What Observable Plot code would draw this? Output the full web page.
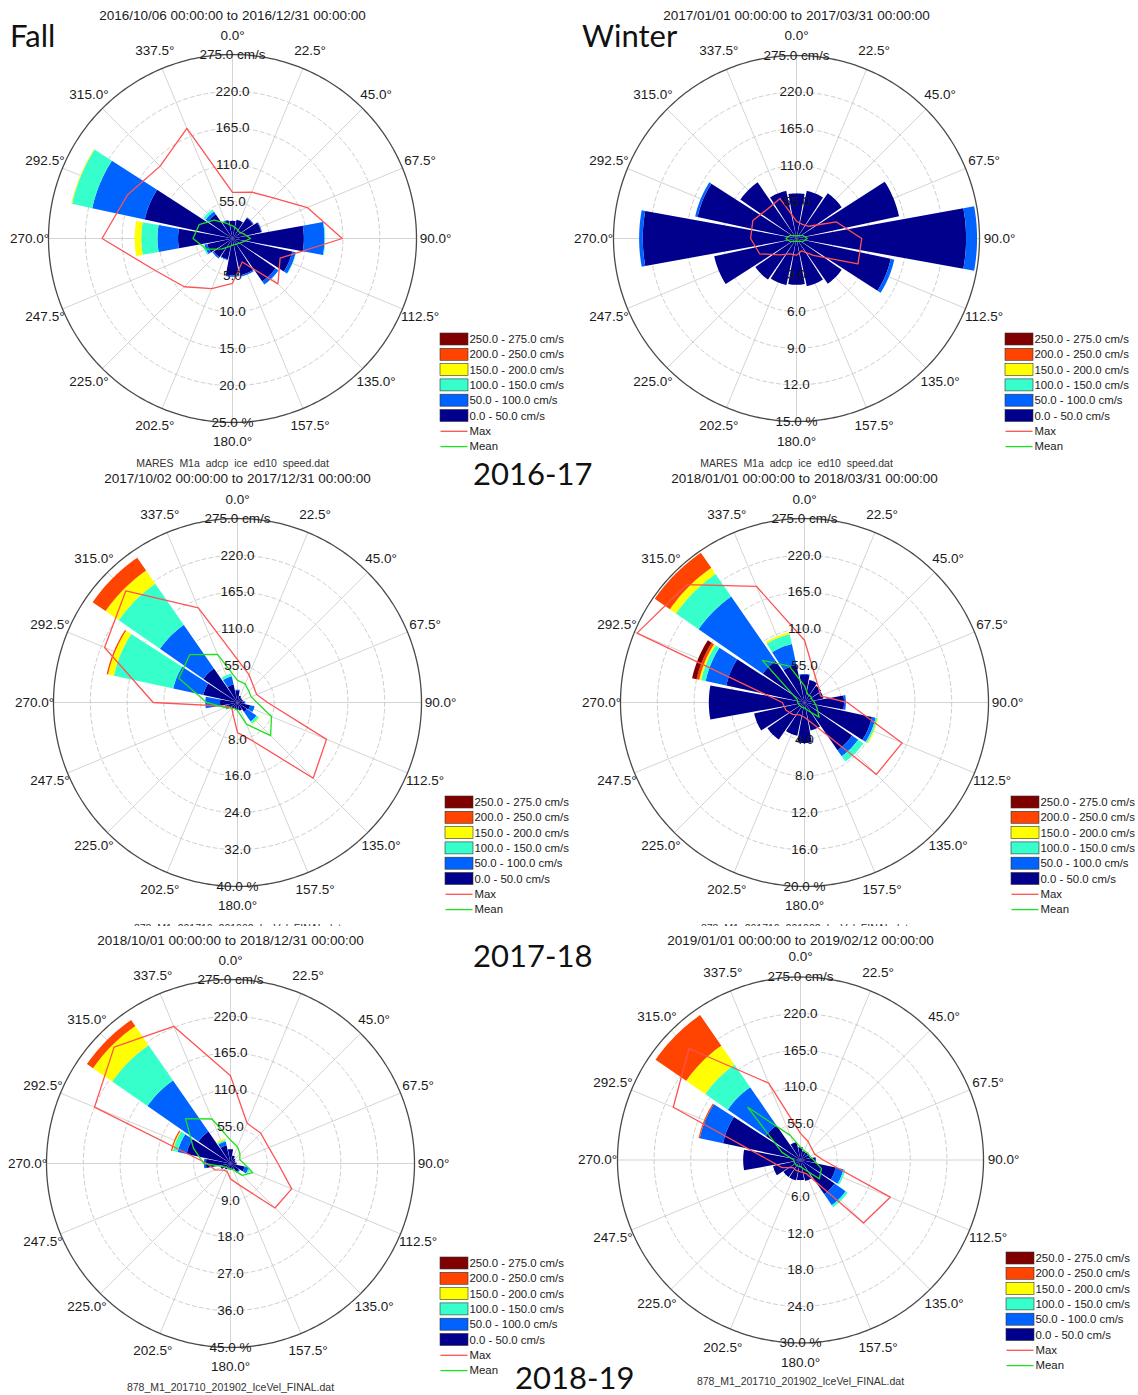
<!DOCTYPE html>
<html><head><meta charset="utf-8">
<script src="https://cdn.jsdelivr.net/npm/d3@7"></script>
<script src="https://cdn.jsdelivr.net/npm/@observablehq/plot@0.6"></script>
<style>
body{margin:0;background:#fff;}
#page{position:relative;width:1138px;height:1395px;overflow:hidden;background:#fff;}
.panel{position:absolute;}
.panel.cover{background:#fff;}
svg text{white-space:pre;}
</style></head><body><div id="page"></div>
<script>
// ---------------- DATA ----------------
const directions = [0, 22.5, 45, 67.5, 90, 112.5, 135, 157.5, 180, 202.5, 225, 247.5, 270, 292.5, 315, 337.5];
const directionLabels = ["0.0°","22.5°","45.0°","67.5°","90.0°","112.5°","135.0°","157.5°","180.0°","202.5°","225.0°","247.5°","270.0°","292.5°","315.0°","337.5°"];
const speedBins = ["0.0 - 50.0 cm/s","50.0 - 100.0 cm/s","100.0 - 150.0 cm/s","150.0 - 200.0 cm/s","200.0 - 250.0 cm/s","250.0 - 275.0 cm/s"];
const speedTicks = [55, 110, 165, 220, 275];
const speedTickLabels = ["55.0","110.0","165.0","220.0","275.0 cm/s"];
const legendLineLabels = ["Max","Mean"];

const panelTitles = [
  "2016/10/06 00:00:00 to 2016/12/31 00:00:00",
  "2017/01/01 00:00:00 to 2017/03/31 00:00:00",
  "2017/10/02 00:00:00 to 2017/12/31 00:00:00",
  "2018/01/01 00:00:00 to 2018/03/31 00:00:00",
  "2018/10/01 00:00:00 to 2018/12/31 00:00:00",
  "2019/01/01 00:00:00 to 2019/02/12 00:00:00"
];
const panelFooters = [
  "MARES  M1a  adcp  ice  ed10  speed.dat",
  "MARES  M1a  adcp  ice  ed10  speed.dat",
  "878_M1_201710_201902_IceVel_FINAL.dat",
  "878_M1_201710_201902_IceVel_FINAL.dat",
  "878_M1_201710_201902_IceVel_FINAL.dat",
  "878_M1_201710_201902_IceVel_FINAL.dat"
];
const seasonLabels = ["Fall","Winter"];
const yearLabels = ["2016-17","2017-18","2018-19"];

// percent ring ticks per panel
const fall16PctTicks = [5, 10, 15, 20, 25];
const winter17PctTicks = [3, 6, 9, 12, 15];
const fall17PctTicks = [8, 16, 24, 32, 40];
const winter18PctTicks = [4, 8, 12, 16, 20];
const fall18PctTicks = [9, 18, 27, 36, 45];
const winter19PctTicks = [6, 12, 18, 24, 30];

// frequency (%) rows = speed bins (0-50 ... 250-275), columns = directions
const fall16Freq = [
  [2.4, 2.6, 3.4, 4.0, 9.7, 8.3, 7.1, 5.1, 5.0, 2.9, 3.1, 3.5, 7.4, 12.2, 4.0, 2.5],
  [0, 0, 0.1, 0.1, 2.8, 0.5, 0.5, 0.2, 0.2, 0.1, 0.2, 0.4, 2.8, 7.3, 0.45, 0.1],
  [0, 0, 0, 0, 0.1, 0.05, 0, 0, 0, 0, 0, 0.2, 2.2, 2.8, 0.35, 0],
  [0, 0, 0, 0, 0, 0, 0, 0, 0, 0, 0, 0, 0.9, 0.1, 0, 0],
  [0, 0, 0, 0, 0, 0, 0, 0, 0, 0, 0, 0, 0, 0, 0, 0],
  [0, 0, 0, 0, 0, 0, 0, 0, 0, 0, 0, 0, 0, 0, 0, 0]
];
const fall16Max  = [69, 75, 86, 121, 164, 77, 96, 38, 67, 81, 102, 125, 195, 170, 153, 178];
const fall16Mean = [19, 16, 14, 18, 27, 15, 11, 10, 10, 13, 22, 42, 59, 54, 39, 25];

const winter17Freq = [
  [3.7, 4.0, 4.5, 8.6, 13.9, 7.9, 4.5, 4.0, 3.8, 3.9, 4.1, 6.9, 12.6, 8.3, 5.6, 4.0],
  [0, 0, 0, 0, 0.9, 0.3, 0, 0, 0, 0, 0, 0, 0.3, 0.2, 0, 0],
  [0, 0, 0, 0, 0, 0, 0, 0, 0, 0, 0, 0, 0, 0, 0, 0],
  [0, 0, 0, 0, 0, 0, 0, 0, 0, 0, 0, 0, 0, 0, 0, 0],
  [0, 0, 0, 0, 0, 0, 0, 0, 0, 0, 0, 0, 0, 0, 0, 0],
  [0, 0, 0, 0, 0, 0, 0, 0, 0, 0, 0, 0, 0, 0, 0, 0]
];
const winter17Max  = [26, 23, 26, 65, 98, 100, 36, 20, 25, 25, 35, 60, 69, 71, 62, 65];
const winter17Mean = [4, 4.5, 6, 11, 16, 11, 6, 4.5, 4, 4.5, 6, 11, 16, 11, 6, 4.5];

const fall17Freq = [
  [2.5, 1.5, 1.2, 1.2, 1.5, 2.8, 2.5, 1.8, 1.6, 1.5, 1.8, 2.5, 3.8, 7.6, 9.0, 4.0],
  [0.3, 0, 0, 0, 0.2, 1.0, 2.5, 0, 0, 0, 0, 0.3, 3.2, 6.7, 11.5, 1.8],
  [0, 0, 0, 0, 0, 0, 0.6, 0, 0, 0, 0, 0, 0, 13.2, 10.9, 0.6],
  [0, 0, 0, 0, 0, 0, 0.2, 0, 0, 0, 0, 0, 0, 1.3, 3.5, 0],
  [0, 0, 0, 0, 0, 0, 0, 0, 0, 0, 0, 0, 0, 0.3, 3.4, 0],
  [0, 0, 0, 0, 0, 0, 0, 0, 0, 0, 0, 0, 0, 0, 0, 0]
];
const fall17Max  = [64, 45, 34, 31, 45, 144, 160, 63, 45, 18, 12, 15, 126, 215, 236, 153];
const fall17Mean = [33, 30, 24, 22, 29, 55, 70, 35, 12, 10, 12, 20, 46, 95, 101, 78];

const winter18Freq = [
  [3.0, 2.5, 2.2, 2.1, 4.3, 7.5, 6.3, 3.1, 4.4, 3.7, 4.9, 5.6, 10.4, 8.7, 5.5, 4.2],
  [0.1, 0, 0, 0, 0.2, 0.4, 0.8, 0, 0, 0, 0, 0, 0, 2.3, 8.5, 2.3],
  [0, 0, 0, 0, 0, 0.2, 0.7, 0, 0, 0, 0, 0, 0, 0.5, 3.0, 1.1],
  [0, 0, 0, 0, 0, 0.1, 0, 0, 0, 0, 0, 0, 0, 0.2, 0.8, 0.2],
  [0, 0, 0, 0, 0, 0, 0, 0, 0, 0, 0, 0, 0, 0.3, 2.0, 0],
  [0, 0, 0, 0, 0, 0, 0, 0, 0, 0, 0, 0, 0, 0.5, 0, 0]
];
const winter18Max  = [93, 42, 30, 26, 64, 158, 152, 35, 22, 20, 25, 30, 33, 271, 249, 188];
const winter18Mean = [25, 13, 13, 12, 15, 20, 31, 13, 8, 8, 8, 9, 10, 12, 89, 59];

const fall18Freq = [
  [3.5, 2.0, 1.5, 1.2, 1.5, 3.5, 2.5, 1.5, 1.5, 1.5, 1.8, 2.5, 6.0, 11.0, 9.5, 4.5],
  [0, 0, 0, 0, 0, 1.0, 0.3, 0, 0, 0, 0, 0, 0.5, 2.2, 15.2, 1.0],
  [0, 0, 0, 0, 0, 0.4, 0, 0, 0, 0, 0, 0, 0, 1.2, 10.5, 0.4],
  [0, 0, 0, 0, 0, 0, 0, 0, 0, 0, 0, 0, 0, 0.2, 5.7, 0.4],
  [0, 0, 0, 0, 0, 0, 0, 0, 0, 0, 0, 0, 0, 0.3, 1.8, 0],
  [0, 0, 0, 0, 0, 0, 0, 0, 0, 0, 0, 0, 0, 0, 0, 0]
];
const fall18Max  = [131, 65, 64, 62, 71, 99, 94, 35, 23, 13, 14, 25, 35, 220, 246, 222];
const fall18Mean = [35, 27, 20, 15, 20, 36, 25, 10, 8, 8, 8, 12, 40, 60, 95, 72];

const winter19Freq = [
  [2.1, 1.5, 1.5, 1.6, 2.5, 5.9, 6.8, 3.5, 3.3, 3.4, 3.4, 4.6, 9.4, 13.0, 6.9, 3.0],
  [0, 0, 0, 0, 0, 1.3, 2.2, 0, 0, 0, 0, 0, 0, 3.9, 7.6, 0],
  [0, 0, 0, 0, 0, 0.3, 0.4, 0, 0, 0, 0, 0, 0, 0, 4.5, 0],
  [0, 0, 0, 0, 0, 0, 0, 0, 0, 0, 0, 0, 0, 0, 3.8, 0],
  [0, 0, 0, 0, 0, 0, 0, 0, 0, 0, 0, 0, 0, 0.2, 6.1, 0],
  [0, 0, 0, 0, 0, 0, 0, 0, 0, 0, 0, 0, 0, 0, 0, 0]
];
const winter19Max  = [40, 30, 24, 23, 34, 146, 134, 22, 18, 17, 16, 30, 48, 207, 237, 125];
const winter19Mean = [19, 15, 15, 15, 20, 34, 40, 15, 10, 10, 10, 10, 10, 30, 112, 40];

// ---------------- STYLE / LAYOUT ----------------
const binColors = ["#00008c", "#0062ff", "#36ffcc", "#ffff00", "#ff4300", "#800000"];
const maxColor = "#ff5252";
const meanColor = "#1fe01f";
const font = "'Liberation Sans', Arial, sans-serif";
const speedMax = 275;
const HALF = 10.3; // petal half width (deg)
const RAD = Math.PI / 180;

const panels = [
  {freq: fall16Freq, max: fall16Max, mean: fall16Mean, ticks: fall16PctTicks, k: 0,
   left: 0, top: 0, w: 569, h: 468, cx: 232, cy: 238, R: 184, tDy: 223, fDy: 225, lx: 208, ly: 101, cover: false},
  {freq: winter17Freq, max: winter17Max, mean: winter17Mean, ticks: winter17PctTicks, k: 1,
   left: 569, top: 0, w: 569, h: 468, cx: 796, cy: 238, R: 183, tDy: 223, fDy: 225, lx: 209, ly: 101, cover: false},
  {freq: fall17Freq, max: fall17Max, mean: fall17Mean, ticks: fall17PctTicks, k: 2,
   left: 0, top: 468, w: 575, h: 458, cx: 237, cy: 702, R: 184, tDy: 224, fDy: 226, lx: 208, ly: 100, cover: false},
  {freq: winter18Freq, max: winter18Max, mean: winter18Mean, ticks: winter18PctTicks, k: 3,
   left: 575, top: 468, w: 563, h: 458, cx: 804, cy: 702, R: 184, tDy: 224, fDy: 226, lx: 207, ly: 100, cover: false},
  {freq: fall18Freq, max: fall18Max, mean: fall18Mean, ticks: fall18PctTicks, k: 4,
   left: 0, top: 926, w: 569, h: 469, cx: 230, cy: 1163, R: 184, tDy: 223, fDy: 224, lx: 210, ly: 100, cover: true},
  {freq: winter19Freq, max: winter19Max, mean: winter19Mean, ticks: winter19PctTicks, k: 5,
   left: 569, top: 926, w: 569, h: 469, cx: 800, cy: 1159.5, R: 183, tDy: 219.5, fDy: 222, lx: 206, ly: 98.5, cover: true}
];

const polar = (deg, r) => [r * Math.sin(deg * RAD), r * Math.cos(deg * RAD)];

function petalPoints(freq, pctMax, R) {
  const pts = [];
  directions.forEach((d, i) => {
    let c = 0;
    freq.forEach((row, b) => {
      const v = row[i];
      if (!(v > 0)) return;
      const r0 = c / pctMax * R, r1 = (c + v) / pctMax * R;
      c += v;
      const id = i + "-" + b, n = 12;
      for (let s = 0; s <= n; s++) {
        const [x, y] = polar(d - HALF + 2 * HALF * s / n, r1);
        pts.push({id, bin: speedBins[b], x, y});
      }
      for (let s = n; s >= 0; s--) {
        const [x, y] = polar(d - HALF + 2 * HALF * s / n, r0);
        pts.push({id, bin: speedBins[b], x, y});
      }
    });
  });
  return pts;
}

function drawPanel(p) {
  const pctMax = p.ticks[p.ticks.length - 1];
  const R = p.R;
  const ox = p.cx - p.left, oy = p.cy - p.top;
  const rings = [];
  [0.2, 0.4, 0.6, 0.8].forEach((f, j) => {
    for (let a = 0; a <= 360; a += 2) {
      const [x, y] = polar(a, f * R);
      rings.push({ring: j, x, y});
    }
  });
  const outer = d3.range(0, 360, 1).map(a => { const [x, y] = polar(a, R); return {x, y}; });
  const pctLabels = p.ticks.map((t, i) => t.toFixed(1) + (i === p.ticks.length - 1 ? " %" : ""));
  const legendRows = [5, 4, 3, 2, 1, 0].map((b, i) => ({bin: speedBins[b], y: -(p.ly + i * 15.3)}));
  const lineRows = legendLineLabels.map((t, i) => ({t, y: -(p.ly + (6 + i) * 15.3), c: i === 0 ? maxColor : meanColor}));
  const vecX = (vals) => (d, i) => polar(d, vals[i] / speedMax * R)[0];
  const vecY = (vals) => (d, i) => polar(d, vals[i] / speedMax * R)[1];

  return Plot.plot({
    width: p.w, height: p.h, margin: 0,
    x: {domain: [-ox, p.w - ox], axis: null},
    y: {domain: [-(p.h - oy), oy], axis: null},
    color: {domain: speedBins, range: binColors},
    style: {background: "transparent", overflow: "visible", fontFamily: font, maxWidth: "none"},
    marks: [
      Plot.link(directions, {x1: 0, y1: 0, x2: d => polar(d, R)[0], y2: d => polar(d, R)[1], stroke: "#d4d4d4", strokeWidth: 1}),
      Plot.line(rings, {x: "x", y: "y", z: "ring", stroke: "#c8c8c8", strokeWidth: 0.9, strokeDasharray: "4,3"}),
      Plot.line(outer, {x: "x", y: "y", stroke: "#4a4a4a", strokeWidth: 1.3, curve: "linear-closed"}),
      Plot.line(petalPoints(p.freq, pctMax, R), {x: "x", y: "y", z: "id", fill: "bin", stroke: "none", curve: "linear-closed"}),
      Plot.line(directions, {x: vecX(p.max), y: vecY(p.max), stroke: maxColor, strokeWidth: 1.3, curve: "linear-closed"}),
      Plot.line(directions, {x: vecX(p.mean), y: vecY(p.mean), stroke: meanColor, strokeWidth: 1.3, curve: "linear-closed"}),
      Plot.text(directions, {x: d => polar(d, 203)[0], y: d => polar(d, 203)[1], text: (d, i) => directionLabels[i], fontSize: 13.5, fill: "#1a1a1a"}),
      Plot.text(speedTicks, {x: 0, y: t => t / speedMax * R, text: (t, i) => speedTickLabels[i], fontSize: 13.5, fill: "#1a1a1a"}),
      Plot.text(p.ticks, {x: 0, y: t => -t / pctMax * R, text: (t, i) => pctLabels[i], fontSize: 13.5, fill: "#1a1a1a"}),
      Plot.text([panelTitles[p.k]], {x: 0, y: p.tDy, text: d => d, fontSize: 13.5, fill: "#1a1a1a"}),
      Plot.text([panelFooters[p.k]], {x: 0, y: -p.fDy, text: d => d, fontSize: 10.5, fill: "#333"}),
      Plot.rect(legendRows, {x1: p.lx, x2: p.lx + 28, y1: d => d.y - 6, y2: d => d.y + 6, fill: "bin", stroke: "#333", strokeWidth: 0.6}),
      Plot.text(legendRows, {x: p.lx + 29, y: "y", text: "bin", textAnchor: "start", fontSize: 11.4, fill: "#1a1a1a"}),
      Plot.link(lineRows, {x1: p.lx, x2: p.lx + 27, y1: "y", y2: "y", stroke: d => d.c, strokeWidth: 1.3}),
      Plot.text(lineRows, {x: p.lx + 29, y: "y", text: "t", textAnchor: "start", fontSize: 11.4, fill: "#1a1a1a"})
    ]
  });
}

const page = document.getElementById("page");
panels.forEach(p => {
  const div = document.createElement("div");
  div.className = "panel" + (p.cover ? " cover" : "");
  div.style.left = p.left + "px";
  div.style.top = p.top + "px";
  div.style.width = p.w + "px";
  div.style.height = p.h + "px";
  if (p.cover) div.style.overflow = "hidden";
  div.appendChild(drawPanel(p));
  page.appendChild(div);
});

// big annotation labels
const overlay = d3.select(page).append("svg")
  .attr("width", 1138).attr("height", 1395)
  .style("position", "absolute").style("left", 0).style("top", 0).style("pointer-events", "none");
const bigFont = "Lato, 'Open Sans', sans-serif";
const bigLabels = [
  {t: seasonLabels[0], x: 10, y: 47},
  {t: seasonLabels[1], x: 582, y: 47},
  {t: yearLabels[0], x: 473, y: 485},
  {t: yearLabels[1], x: 473, y: 967},
  {t: yearLabels[2], x: 515, y: 1389}
];
overlay.selectAll("text").data(bigLabels).join("text")
  .attr("x", d => d.x).attr("y", d => d.y)
  .attr("font-family", bigFont).attr("font-size", 31).attr("fill", "#111")
  .text(d => d.t);
</script>
</body></html>
